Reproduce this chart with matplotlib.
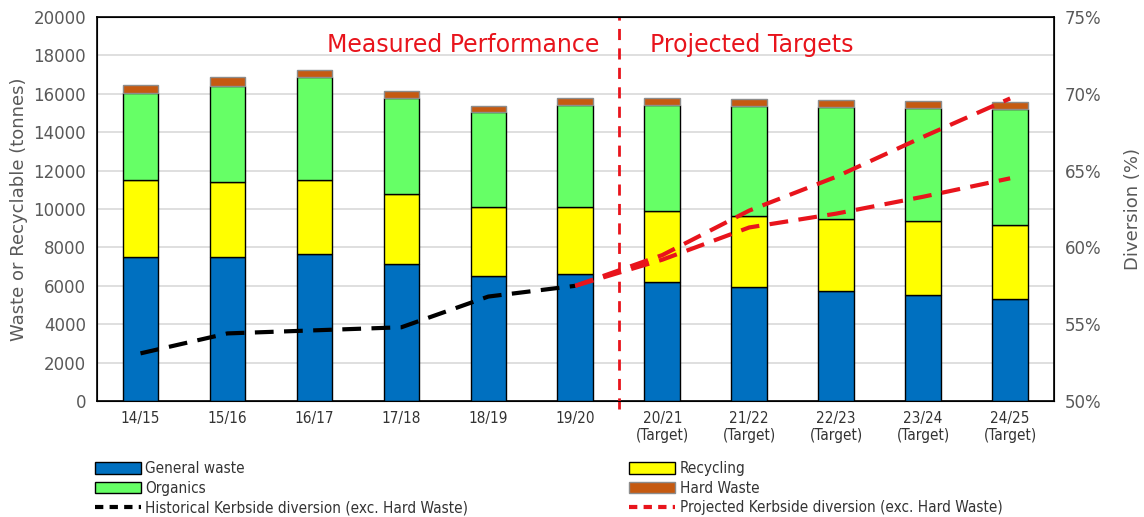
import matplotlib
matplotlib.use('Agg')
import matplotlib.pyplot as plt
from matplotlib.patches import Patch
from matplotlib.lines import Line2D
from matplotlib import font_manager
import numpy as np

# Kerbside collection data (tonnes) and diversion (%)
years = ['14/15', '15/16', '16/17', '17/18', '18/19', '19/20',
         '20/21\n(Target)', '21/22\n(Target)', '22/23\n(Target)',
         '23/24\n(Target)', '24/25\n(Target)']
general_waste = [7500, 7480, 7640, 7150, 6500, 6600, 6210, 5950, 5750, 5540, 5330]
recycling = [4010, 3940, 3850, 3650, 3600, 3500, 3690, 3700, 3730, 3840, 3850]
organics = [4550, 4980, 5410, 5000, 4950, 5300, 5500, 5710, 5850, 5900, 6030]
hard_waste = [400, 460, 320, 350, 300, 400, 400, 370, 350, 360, 380]

hist_idx = [0, 1, 2, 3, 4, 5]
hist_div = [53.1, 54.4, 54.6, 54.8, 56.8, 57.5]
proj_idx = [5, 6, 7, 8, 9, 10]
proj_high = [57.5, 59.5, 62.4, 64.6, 67.2, 69.7]
proj_low = [57.5, 59.2, 61.3, 62.2, 63.3, 64.5]

c_blue = '#0070c0'
c_yellow = '#ffff00'
c_green = '#66ff66'
c_brown = '#c55a11'
c_red = '#e8141c'
c_grey = '#595959'

# narrow font for legend / category labels if available
names = {f.name for f in font_manager.fontManager.ttflist}
narrow = 'Liberation Sans Narrow' if 'Liberation Sans Narrow' in names else 'DejaVu Sans'
has_cond = any(f.name == 'DejaVu Sans' and f.stretch == 'condensed'
               for f in font_manager.fontManager.ttflist)
narrow_fp = dict(family=[narrow, 'DejaVu Sans'],
                 stretch='condensed' if has_cond else 'normal')

fig = plt.figure(figsize=(11.44, 5.17), dpi=100)
ax = fig.add_axes([0.0848, 0.2244, 0.8362, 0.7426])
ax2 = ax.twinx()

x = np.arange(len(years))
w = 0.41
b1 = np.array(general_waste)
b2 = b1 + np.array(recycling)
b3 = b2 + np.array(organics)
ax.bar(x, general_waste, w, color=c_blue, edgecolor='black', lw=1, zorder=3)
ax.bar(x, recycling, w, bottom=b1, color=c_yellow, edgecolor='black', lw=1, zorder=3)
ax.bar(x, organics, w, bottom=b2, color=c_green, edgecolor='black', lw=1, zorder=3)
ax.bar(x, hard_waste, w, bottom=b3, color=c_brown, edgecolor='#8c8c8c', lw=1, zorder=3)

ax.set_ylim(0, 20000)
ax.set_yticks(range(0, 20001, 2000))
ax.set_xlim(-0.5, len(years) - 0.5)
ax.set_xticks(x)
ax.set_xticklabels(years, fontsize=11, color='#333333', **narrow_fp)
ax.tick_params(axis='x', length=0, pad=7)
ax.tick_params(axis='y', length=0, labelsize=12, labelcolor=c_grey, pad=8)
ax.grid(axis='y', color='#d9d9d9', lw=1.2, zorder=0)
ax.set_axisbelow(True)
ax.set_ylabel('Waste or Recyclable (tonnes)', fontsize=13, color=c_grey, labelpad=4)
for s in ax.spines.values():
    s.set_linewidth(1.2)

ax2.plot(hist_idx, hist_div, color='black', lw=3, dashes=(4.5, 2.5), zorder=5)
ax2.plot(proj_idx, proj_high, color=c_red, lw=3, dashes=(4.5, 2.5), zorder=5)
ax2.plot(proj_idx, proj_low, color=c_red, lw=3, dashes=(4.5, 2.5), zorder=5)
ax2.set_ylim(50, 75)
ax2.set_yticks(range(50, 76, 5))
ax2.set_yticklabels([f'{v}%' for v in range(50, 76, 5)])
ax2.tick_params(axis='y', length=0, labelsize=12, labelcolor=c_grey, pad=8)
ax2.set_ylabel('Diversion (%)', fontsize=13, color=c_grey, labelpad=16)

ax.axvline(5.5, color=c_red, lw=2, dashes=(4, 3), ymin=-0.02, clip_on=False, zorder=4)
ax.text(5.28, 18560, 'Measured Performance', color=c_red, fontsize=17,
        ha='right', va='center', weight='medium')
ax.text(5.86, 18560, 'Projected Targets', color=c_red, fontsize=17,
        ha='left', va='center', weight='medium')

leg_font = dict(size=11, **narrow_fp)
h_left = [Patch(facecolor=c_blue, edgecolor='black', label='General waste'),
          Patch(facecolor=c_green, edgecolor='black', label='Organics'),
          Line2D([], [], color='black', lw=3, dashes=(2, 1.5),
                 label='Historical Kerbside diversion (exc. Hard Waste)')]
h_right = [Patch(facecolor=c_yellow, edgecolor='black', label='Recycling'),
           Patch(facecolor=c_brown, edgecolor='#8c8c8c', label='Hard Waste'),
           Line2D([], [], color=c_red, lw=3, dashes=(2, 1.5),
                  label='Projected Kerbside diversion (exc. Hard Waste)')]
for h, xl in ((h_left, 0.083), (h_right, 0.55)):
    lg = fig.legend(handles=h, loc='upper left', bbox_to_anchor=(xl, 0.108),
                    frameon=False, prop=leg_font, handlelength=3.0,
                    handleheight=0.8, labelspacing=0.3, handletextpad=0.3,
                    borderaxespad=0, borderpad=0)
    for t in lg.get_texts():
        t.set_color('#333333')

fig.savefig('out.png', dpi=100)
